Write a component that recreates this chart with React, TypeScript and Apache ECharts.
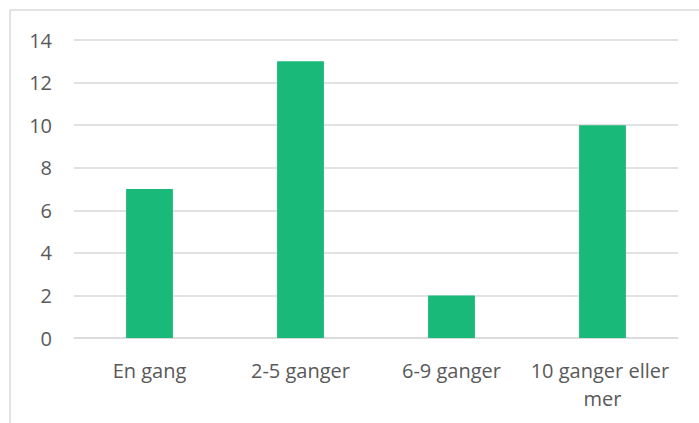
import React, { useEffect, useRef } from "react";
import * as echarts from "echarts";

const categories = ["En gang", "2-5 ganger", "6-9 ganger", "10 ganger eller mer"];
const values = [7, 13, 2, 10];
const yTicks = { min: 0, max: 14, interval: 2 };

export default function App() {
  const ref = useRef<HTMLDivElement>(null);
  useEffect(() => {
    const chart = echarts.init(ref.current!, undefined, { renderer: "svg" });
    const font = "'Open Sans', sans-serif";
    chart.setOption({
      animation: false,
      backgroundColor: "#ffffff",
      graphic: [
        {
          type: "rect",
          shape: { x: 10, y: 10, width: 720, height: 440 },
          style: { fill: "none", stroke: "#D9D9D9", lineWidth: 1.5 },
          silent: true,
        },
      ],
      grid: { left: 74, right: 21, top: 40, bottom: 85 },
      xAxis: {
        type: "category",
        data: categories,
        axisLine: { show: true, lineStyle: { color: "#D9D9D9", width: 1.5 } },
        axisTick: { show: false },
        axisLabel: {
          color: "#595959",
          fontFamily: font,
          fontSize: 20,
          lineHeight: 28,
          margin: 18,
          width: 150,
          overflow: "break",
          align: "center",
          interval: 0,
        },
      },
      yAxis: {
        type: "value",
        min: yTicks.min,
        max: yTicks.max,
        interval: yTicks.interval,
        axisLine: { show: false },
        axisTick: { show: false },
        splitLine: { lineStyle: { color: "#D9D9D9", width: 1.5 } },
        axisLabel: {
          color: "#595959",
          fontFamily: font,
          fontSize: 20,
          margin: 22,
        },
      },
      series: [
        {
          type: "bar",
          data: values,
          barWidth: "31%",
          itemStyle: { color: "#18B979" },
        },
      ],
    });
    return () => chart.dispose();
  }, []);
  return (
    <div
      ref={ref}
      style={{ position: "fixed", left: 0, top: 0, width: 699, height: 423 }}
    />
  );
}
